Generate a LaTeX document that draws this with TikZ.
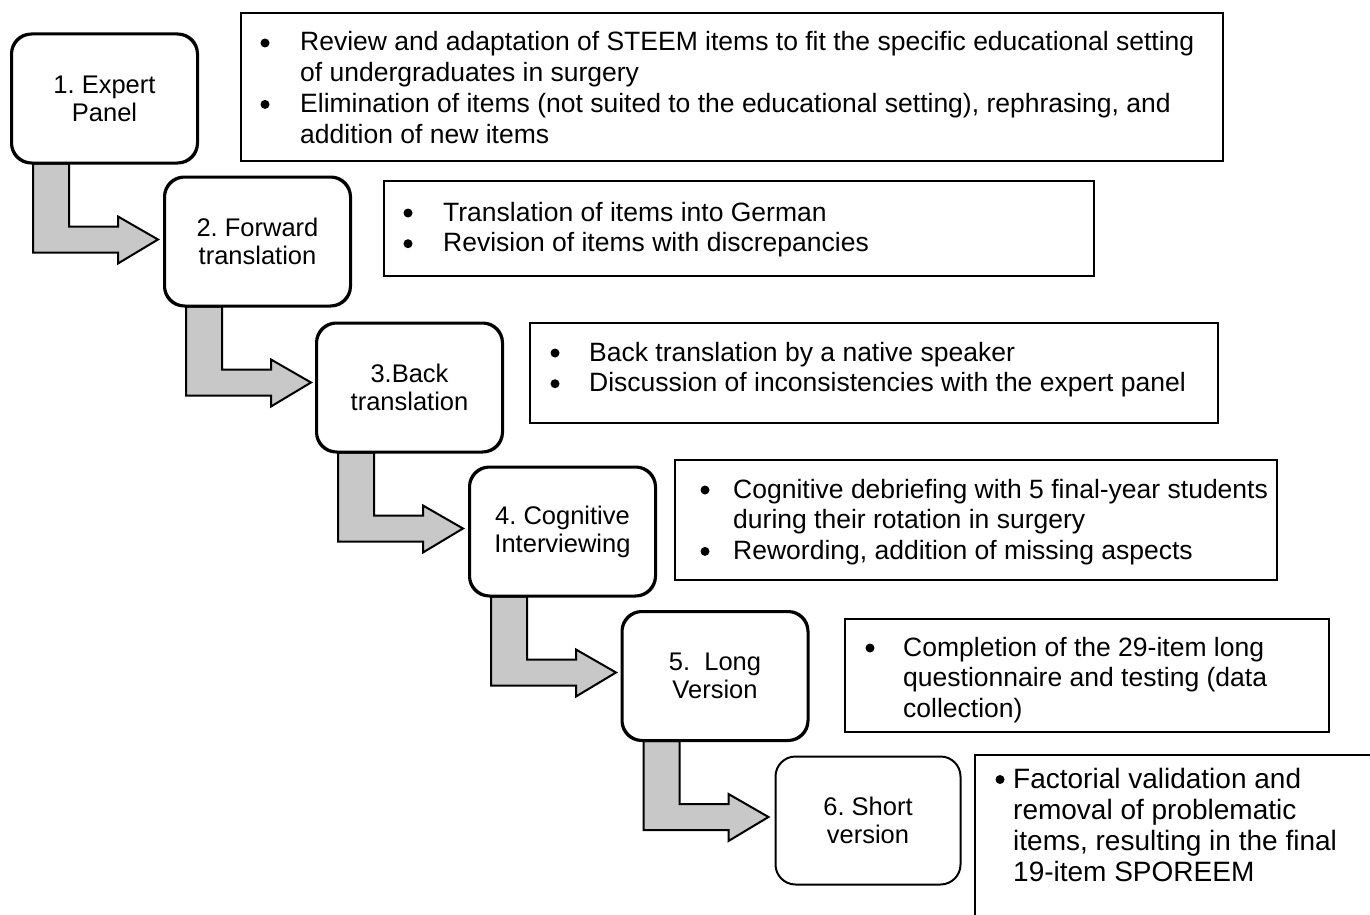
\documentclass[tikz,border=0pt]{standalone}
\usepackage{fontspec}
\setmainfont{Liberation Sans}
\usetikzlibrary{calc}
\definecolor{arrowgray}{RGB}{200,200,200}
\tikzset{
  stepbox/.style={draw=black, line width=2pt, rounded corners=20pt, fill=white,
    minimum width=185pt, minimum height=128pt, inner sep=0pt, align=center,
    font=\fontsize{25.5}{28}\selectfont},
  infobox/.style={draw=black, line width=2pt, inner sep=0pt, anchor=north west},
  infotext/.style={inner sep=0pt, anchor=base west, font=\fontsize{26.5}{30.7}\selectfont},
  bigtext/.style={inner sep=0pt, anchor=base west, font=\fontsize{28}{31}\selectfont},
  bendarrow/.style={draw=black, line width=2pt, fill=arrowgray, line join=miter},
  bulletdot/.style={fill=black},
}
\begin{document}
\frenchspacing
\begin{tikzpicture}[x=1pt,y=-1pt]
\useasboundingbox (0,0) rectangle (1370,915);

% step boxes
\node[stepbox] (s1) at (104.5,98.5) {1. Expert\\Panel};
\node[stepbox] (s2) at (257.5,241.5) {2. Forward\\translation};
\node[stepbox] (s3) at (409.5,387.5) {3.Back\\translation};
\node[stepbox] (s4) at (562.5,531.5) {4. Cognitive\\Interviewing};
\node[stepbox] (s5) at (715,676) {5.\ \ Long\\Version};
\node[stepbox] (s6) at (868,820.5) {6. Short\\version};

% bent arrows
\foreach \a in {s1,s2,s3,s4,s5}{
  \draw[bendarrow, shift={(\a.south west)}]
    (22,0) -- (22,89) -- (107,89) -- (107,100) -- (147,76) -- (107,53) -- (107,63) -- (58,63) -- (58,0) -- cycle;
}
% redraw step box outlines over the arrow shafts
\foreach \a in {s1,s2,s3,s4,s5}{
  \draw[line width=2pt, rounded corners=20pt] (\a.south west) rectangle (\a.north east);
}

% info boxes
\node[infobox, minimum width=982pt, minimum height=148pt] (t1) at (240,12) {};
\node[infobox, minimum width=710pt, minimum height=95pt] (t2) at (383,180) {};
\node[infobox, minimum width=688pt, minimum height=100pt] (t3) at (529,322) {};
\node[infobox, minimum width=602pt, minimum height=120pt] (t4) at (674,459) {};
\node[infobox, minimum width=484pt, minimum height=113pt] (t5) at (844,618) {};
\draw[line width=2pt] (1372,755) coordinate (t6a) -- (975,755) coordinate (t6b) -- (975,917) coordinate (t6c);

% info texts (anchored at the first line's baseline, at the bullet centre)
\node[infotext] (x1) at (265,51) {\begin{tabular}[t]{@{}p{35pt}@{}l@{}}
 & Review and adaptation of STEEM items to fit the specific educational setting\\
 & of undergraduates in surgery\\
 & Elimination of items (not suited to the educational setting), rephrasing, and\\
 & addition of new items
\end{tabular}};
\node[infotext] (x2) at (408,221) {\begin{tabular}[t]{@{}p{35pt}@{}l@{}}
 & Translation of items into German\\
 & Revision of items with discrepancies
\end{tabular}};
\node[infotext] (x3) at (555,361) {\begin{tabular}[t]{@{}p{34pt}@{}l@{}}
 & Back translation by a native speaker\\
 & Discussion of inconsistencies with the expert panel
\end{tabular}};
\node[infotext] (x4) at (705,498) {\begin{tabular}[t]{@{}p{28pt}@{}l@{}}
 & Cognitive debriefing with 5 final-year students\\
 & during their rotation in surgery\\
 & Rewording, addition of missing aspects
\end{tabular}};
\node[infotext] (x5) at (870,656) {\begin{tabular}[t]{@{}p{33pt}@{}l@{}}
 & Completion of the 29-item long\\
 & questionnaire and testing (data\\
 & collection)
\end{tabular}};
\node[bigtext] (x6) at (1000,788) {\begin{tabular}[t]{@{}p{13pt}@{}l@{}}
 & Factorial validation and\\
 & removal of problematic\\
 & items, resulting in the final\\
 & 19-item SPOREEM
\end{tabular}};

% bullets
\foreach \n/\r in {x1/0, x1/2, x2/0, x2/1, x3/0, x3/1, x4/0, x4/2, x5/0}{
  \fill[bulletdot, shift={(\n.base west)}] (0,{\r*30.7-8}) circle (4.5);
}
\fill[bulletdot, shift={(x6.base west)}] (0,-8.5) circle (4.5);
\end{tikzpicture}
\end{document}
